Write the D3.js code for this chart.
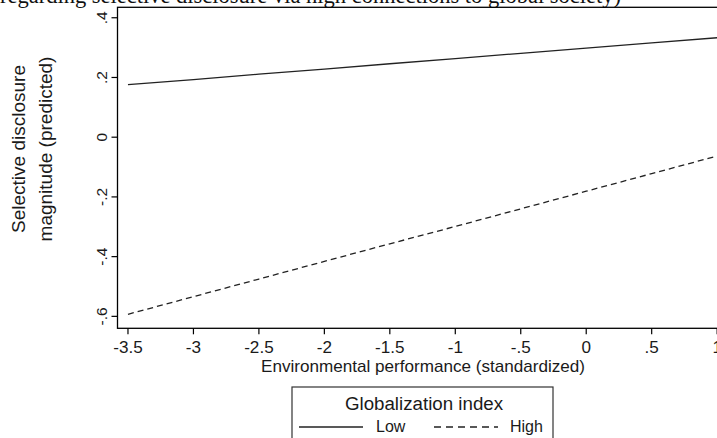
<!DOCTYPE html>
<html>
<head>
<meta charset="utf-8">
<script src="https://cdn.jsdelivr.net/npm/d3@7"></script>
<style>
  body { margin: 0; background: #fff; }
  svg { display: block; }
  .tick-label { font-family: Arial, "Liberation Sans", sans-serif; font-size: 15px; fill: #1a1a1a; }
  .axis-title { font-family: Arial, "Liberation Sans", sans-serif; fill: #1a1a1a; }
</style>
</head>
<body>
<div id="chart"></div>
<script>
// Data (margins at each x tick)
const xValues = [-3.5, -3, -2.5, -2, -1.5, -1, -0.5, 0, 0.5, 1];
const lowValues = [0.176, 0.193, 0.211, 0.228, 0.246, 0.263, 0.281, 0.298, 0.316, 0.333];
const highValues = [-0.593, -0.534, -0.475, -0.416, -0.357, -0.299, -0.240, -0.181, -0.122, -0.063];
const xTicks = [-3.5, -3, -2.5, -2, -1.5, -1, -0.5, 0, 0.5, 1];
const xTickLabels = ['-3.5', '-3', '-2.5', '-2', '-1.5', '-1', '-.5', '0', '.5', '1'];
const yTicks = [0.4, 0.2, 0, -0.2, -0.4, -0.6];
const yTickLabels = ['.4', '.2', '0', '-.2', '-.4', '-.6'];
const seriesNames = ['Low', 'High'];

const width = 717, height = 438;
const frame = { left: 117.5, top: 7.3, right: 725, bottom: 328.3 };
// the source image is slightly stretched horizontally
const stretch = 1.07;

const svg = d3.select('#chart').append('svg')
  .attr('width', width)
  .attr('height', height);

// Scales
const x = d3.scaleLinear().domain([-3.58, 1.06]).range([frame.left, frame.right]);
const y = d3.scaleLinear().domain([-0.640, 0.435]).range([frame.bottom, frame.top]);

// Title (cut off at the top of the picture)
svg.append('text')
  .attr('x', 621)
  .attr('y', 3)
  .attr('text-anchor', 'end')
  .style('font-family', '"Liberation Serif", "Times New Roman", serif')
  .style('font-size', '22.5px')
  .style('fill', '#111')
  .text('regarding selective disclosure via high connections to global society)');

// Plot frame
svg.append('rect')
  .attr('x', frame.left)
  .attr('y', frame.top)
  .attr('width', frame.right - frame.left)
  .attr('height', frame.bottom - frame.top)
  .attr('fill', 'none')
  .attr('stroke', '#000')
  .attr('stroke-width', 1.3);

// Y axis ticks and rotated labels
const yAxis = svg.append('g');
yAxis.selectAll('line')
  .data(yTicks)
  .enter()
  .append('line')
  .attr('x1', frame.left - 6)
  .attr('x2', frame.left)
  .attr('y1', d => y(d))
  .attr('y2', d => y(d))
  .attr('stroke', '#000')
  .attr('stroke-width', 1.2);

yAxis.selectAll('text')
  .data(yTicks)
  .enter()
  .append('text')
  .attr('class', 'tick-label')
  .attr('text-anchor', 'middle')
  .attr('transform', d => `translate(106.5, ${y(d)}) rotate(-90)`)
  .style('font-size', '15.5px')
  .text((d, i) => yTickLabels[i]);

// X axis ticks and labels
const xAxis = svg.append('g');
xAxis.selectAll('line')
  .data(xTicks)
  .enter()
  .append('line')
  .attr('x1', d => x(d))
  .attr('x2', d => x(d))
  .attr('y1', frame.bottom)
  .attr('y2', frame.bottom + 6)
  .attr('stroke', '#000')
  .attr('stroke-width', 1.2);

xAxis.selectAll('text')
  .data(xTicks)
  .enter()
  .append('text')
  .attr('class', 'tick-label')
  .attr('text-anchor', 'middle')
  .attr('transform', d => `translate(${x(d)}, 353) scale(${stretch}, 1)`)
  .style('font-size', '16px')
  .text((d, i) => xTickLabels[i]);

// Axis titles
svg.append('text')
  .attr('class', 'axis-title')
  .attr('text-anchor', 'middle')
  .attr('transform', `translate(423, 371.5) scale(${stretch}, 1)`)
  .style('font-size', '16px')
  .text('Environmental performance (standardized)');

const yTitle = svg.append('g')
  .attr('transform', 'translate(0, 149) rotate(-90)');
yTitle.append('text')
  .attr('class', 'axis-title')
  .attr('text-anchor', 'middle')
  .attr('x', 0)
  .attr('y', 25)
  .style('font-size', '19px')
  .text('Selective disclosure');
yTitle.append('text')
  .attr('class', 'axis-title')
  .attr('text-anchor', 'middle')
  .attr('x', 0)
  .attr('y', 52)
  .style('font-size', '19px')
  .text('magnitude (predicted)');

// Prediction lines
const line = d3.line()
  .x(d => x(d[0]))
  .y(d => y(d[1]));

const plot = svg.append('g');
plot.append('path')
  .datum(xValues.map((v, i) => [v, lowValues[i]]))
  .attr('d', line)
  .attr('fill', 'none')
  .attr('stroke', '#222')
  .attr('stroke-width', 1.3);

plot.append('path')
  .datum(xValues.map((v, i) => [v, highValues[i]]))
  .attr('d', line)
  .attr('fill', 'none')
  .attr('stroke', '#222')
  .attr('stroke-width', 1.3)
  .attr('stroke-dasharray', '6,4');

// Legend (bottom is cut off)
const legend = svg.append('g').attr('transform', 'translate(292, 387)');
legend.append('rect')
  .attr('x', 0)
  .attr('y', 0)
  .attr('width', 261)
  .attr('height', 70)
  .attr('fill', '#fff')
  .attr('stroke', '#333')
  .attr('stroke-width', 1.2);

legend.append('text')
  .attr('class', 'axis-title')
  .attr('text-anchor', 'middle')
  .attr('transform', 'translate(132, 23) scale(1.04, 1)')
  .style('font-size', '18px')
  .text('Globalization index');

const entries = [
  { name: seriesNames[0], x0: 7, x1: 71, tx: 84, dash: null },
  { name: seriesNames[1], x0: 142, x1: 206, tx: 218, dash: '7,5' },
];
const items = legend.selectAll('.legend-item')
  .data(entries)
  .enter()
  .append('g')
  .attr('class', 'legend-item');

items.append('line')
  .attr('x1', d => d.x0)
  .attr('x2', d => d.x1)
  .attr('y1', 40)
  .attr('y2', 40)
  .attr('stroke', '#222')
  .attr('stroke-width', 1.3)
  .attr('stroke-dasharray', d => d.dash);

items.append('text')
  .attr('class', 'axis-title')
  .attr('x', d => d.tx)
  .attr('y', 45)
  .style('font-size', '16px')
  .text(d => d.name);
</script>
</body>
</html>
